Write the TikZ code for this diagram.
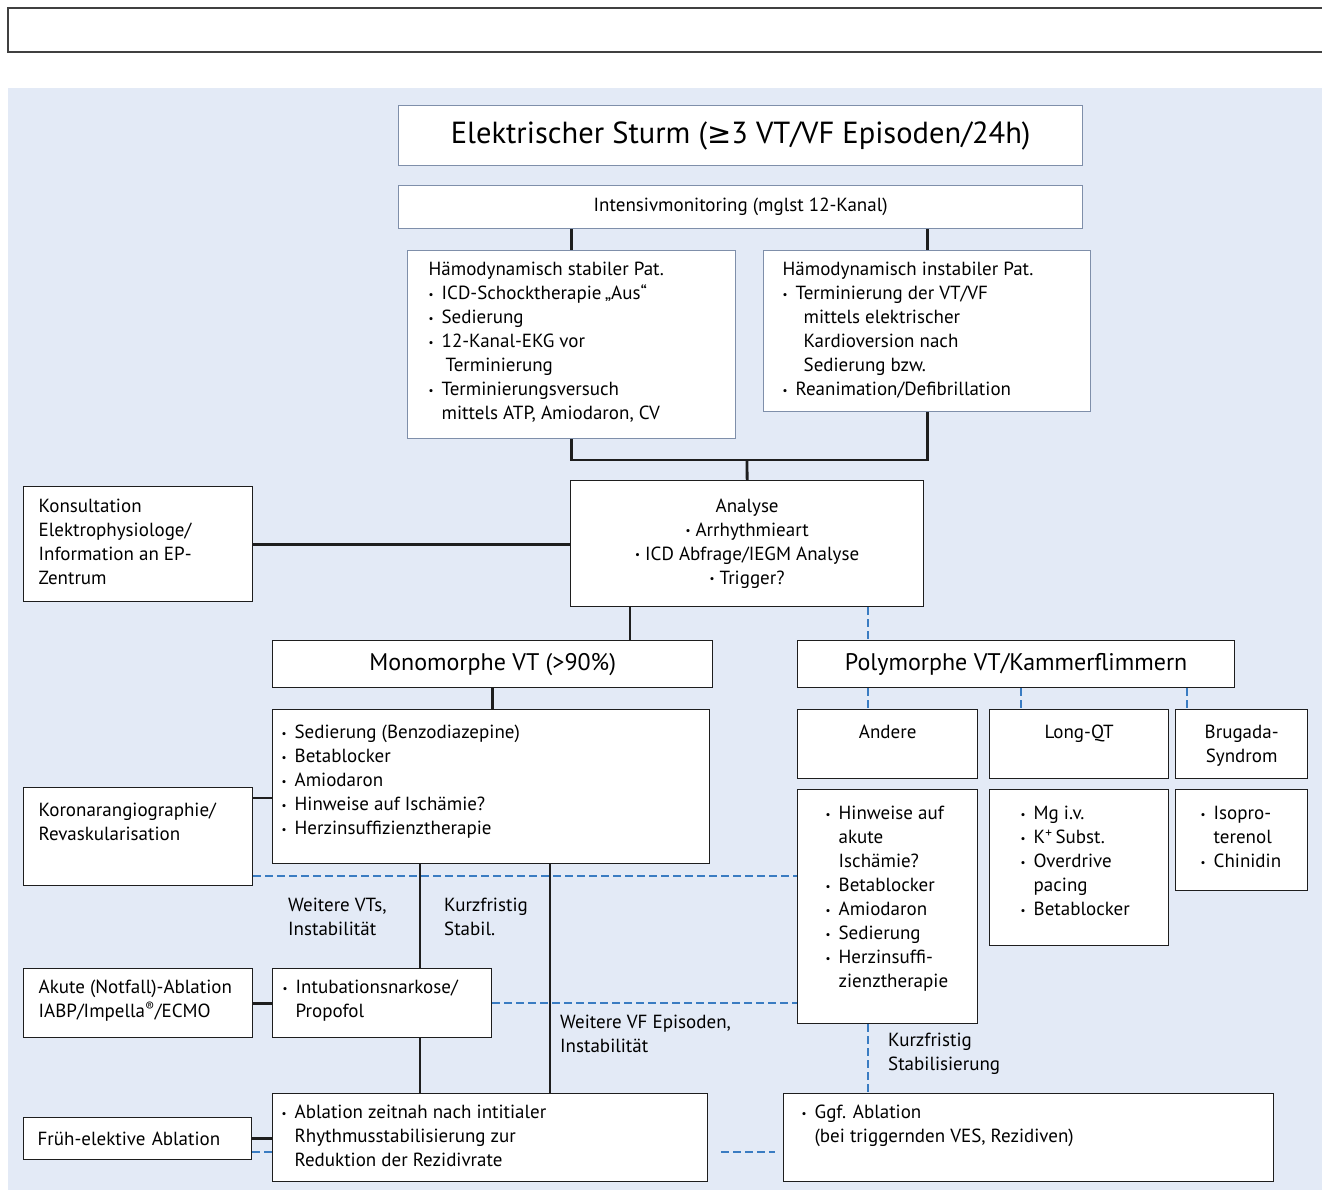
\documentclass[tikz,border=0pt]{standalone}
\usepackage{fontspec}
\setmainfont{PT Sans}
\newfontfamily\symfont{DejaVu Sans}
\usetikzlibrary{positioning}
\definecolor{stormBg}{HTML}{E3EAF6}
\definecolor{stormBlue}{HTML}{3A7CC2}
\definecolor{stormFrame}{HTML}{7F8FAA}
\definecolor{stormLine}{HTML}{1E1E1E}
\setlength{\parskip}{0pt}
\setlength{\parindent}{0pt}
% box content: width, height, left pad, top pad, text
\newcommand{\boxtext}[5]{%
  \begin{minipage}[c][#2][t]{#1}\leftskip=#3\relax\vspace*{#4}#5\end{minipage}}
\newcommand{\bul}{\makebox[13pt][l]{\raisebox{1.5pt}{\fontsize{11}{11}\selectfont•}}}
\newcommand{\itm}{\par\noindent\hangindent=13pt\hangafter=1\strut\bul}
\newcommand{\hdr}{\par\noindent\strut}
\newcommand{\cbul}{{\raisebox{1.5pt}{\fontsize{11}{11}\selectfont•}}\ }

\tikzset{
  box/.style={draw=stormLine, fill=white, line width=1.3pt, inner sep=0pt, anchor=north west},
  framebox/.style={box, draw=stormFrame},
  conn/.style={draw=stormLine, line width=2.8pt},
  link/.style={draw=stormBlue, line width=2.5pt, dash pattern=on 8pt off 4pt},
  note/.style={inner sep=0pt, align=left, anchor=north west},
}

\begin{document}
\begin{tikzpicture}[x=1pt, y=-1pt, font=\fontsize{19}{24}\selectfont]
  \useasboundingbox (0,0) rectangle (1322,1190);
  \draw[draw=black!75, line width=1.5pt] (1340,8) -- (8,8) -- (8,52) -- (1340,52);
  \fill[stormBg] (8,88) rectangle (1322,1190);

  % helper positions
  \coordinate (xmono) at (630,0);
  \coordinate (xpoly) at (868,0);
  \coordinate (xlong) at (1021,0);
  \coordinate (xbru) at (1187,0);
  \coordinate (xint) at (420,0);
  \coordinate (xabl) at (550,0);
  \coordinate (ykor) at (0,798);
  \coordinate (ydashA) at (0,876);
  \coordinate (ydashB) at (0,1152);
  \coordinate (join) at (747,460);

  % top
  \node[framebox, minimum width=684pt, minimum height=60pt, font=\fontsize{30.5}{34}\selectfont]
    (title) at (398,105) {Elektrischer Sturm ({\symfont\fontsize{29}{34}\selectfont ≥}3 VT/VF Episoden/24h)};
  \node[framebox, minimum width=684pt, minimum height=43pt] (intens) at (398,185)
    {Intensivmonitoring (mglst 12-Kanal)};
  \node[framebox] (stab) at (407,250) {\boxtext{328pt}{188pt}{21pt}{8.5pt}{%
    \hdr Hämodynamisch stabiler Pat.
    \itm ICD-Schocktherapie\,„Aus“
    \itm Sedierung
    \itm 12-Kanal-EKG vor\\\hspace*{4pt}Terminierung
    \itm Terminierungsversuch\\mittels ATP, Amiodaron, CV}};
  \node[framebox] (inst) at (763,250) {\boxtext{327pt}{161pt}{19pt}{8.5pt}{%
    \hdr Hämodynamisch instabiler Pat.
    \itm Terminierung der VT/VF\\\hspace*{8pt}mittels elektrischer\\\hspace*{8pt}Kardioversion nach\\\hspace*{8pt}Sedierung bzw.
    \itm Reanimation/Defibrillation}};

  % analysis
  \node[box, minimum width=353pt, minimum height=126pt, align=center] (analyse) at (570,480)
    {Analyse\\\cbul Arrhythmieart\\\cbul ICD Abfrage/IEGM Analyse\\\cbul Trigger?};
  \node[box] (kons) at (23,486) {\boxtext{229pt}{115pt}{15pt}{9.5pt}{%
    \hdr Konsultation\\Elektrophysiologe/\\Information an EP-\\Zentrum}};

  % monomorph branch
  \node[box, minimum width=440pt, minimum height=47pt, font=\fontsize{24}{28}\selectfont]
    (mono) at (272,640) {Monomorphe VT (>90\%)};
  \node[box] (monolist) at (272,709) {\boxtext{437pt}{154pt}{9pt}{12.5pt}{%
    \itm Sedierung (Benzodiazepine)
    \itm Betablocker
    \itm Amiodaron
    \itm Hinweise auf Ischämie?
    \itm Herzinsuffizienztherapie}};
  \node[box] (koronar) at (23,787) {\boxtext{229pt}{98pt}{15pt}{12.5pt}{%
    \hdr Koronarangiographie/\\Revaskularisation}};
  \node[box] (intub) at (272,968) {\boxtext{219pt}{69pt}{10pt}{8.5pt}{%
    \itm Intubationsnarkose/\\Propofol}};
  \node[box] (akute) at (23,968) {\boxtext{229pt}{69pt}{15pt}{8.5pt}{%
    \hdr Akute (Notfall)-Ablation\\IABP/Impella\textsuperscript{®}/ECMO}};
  \node[box] (ablation) at (272,1093) {\boxtext{435pt}{88pt}{9pt}{8.5pt}{%
    \itm Ablation zeitnah nach intitialer\\Rhythmusstabilisierung zur\\Reduktion der Rezidivrate}};
  \node[box, minimum width=228pt, minimum height=42pt, align=left, text width=200pt]
    (frueh) at (23,1117) {Früh-elektive Ablation};

  % polymorph branch
  \node[box, minimum width=437pt, minimum height=47pt, font=\fontsize{24}{28}\selectfont]
    (poly) at (797,640) {Polymorphe VT/Kammerflimmern};
  \node[box] (andere) at (797,709) {\boxtext{180pt}{69pt}{0pt}{12.5pt}{\centering\strut Andere}};
  \node[box] (longqt) at (989,709) {\boxtext{179pt}{69pt}{0pt}{12.5pt}{\centering\strut Long-QT}};
  \node[box] (brugada) at (1175,709) {\boxtext{132pt}{69pt}{0pt}{12.5pt}{\centering\strut Brugada-\\Syndrom}};
  \node[box] (anderelist) at (797,789) {\boxtext{180pt}{234pt}{28pt}{13.5pt}{%
    \itm Hinweise auf\\akute\\Ischämie?
    \itm Betablocker
    \itm Amiodaron
    \itm Sedierung
    \itm Herzinsuffi-\\zienztherapie}};
  \node[box] (longlist) at (989,789) {\boxtext{179pt}{156pt}{31pt}{13.5pt}{%
    \itm Mg i.v.
    \itm K\textsuperscript{+}\,Subst.
    \itm Overdrive\\pacing
    \itm Betablocker}};
  \node[box] (brulist) at (1175,789) {\boxtext{132pt}{101pt}{25pt}{13.5pt}{%
    \itm Isopro-\\terenol
    \itm Chinidin}};
  \node[box] (ggf) at (783,1093) {\boxtext{490pt}{88pt}{18pt}{8.5pt}{%
    \itm Ggf. Ablation\\(bei triggernden VES, Rezidiven)}};

  % free labels
  \node[note] (lblvt) at (288,898) {Weitere VTs,\\Instabilität};
  \node[note] (lblstab) at (444,898) {Kurzfristig\\Stabil.};
  \node[note] (lblvf) at (560,1015) {Weitere VF Episoden,\\Instabilität};
  \node[note] (lblkurz) at (888,1033) {Kurzfristig\\Stabilisierung};

  % solid connectors
  \draw[conn] (stab.north |- intens.south) -- (stab.north);
  \draw[conn] (inst.north |- intens.south) -- (inst.north);
  \draw[conn] (stab.south) |- (join) -| (inst.south);
  \draw[conn] (join) -- (analyse.north);
  \draw[conn] (kons.east) -- (kons.east -| analyse.west);
  \draw[conn] (analyse.south -| xmono) -- (mono.north -| xmono);
  \draw[conn] (mono.south) -- (mono.south |- monolist.north);
  \draw[conn] (koronar.east |- ykor) -- (monolist.west |- ykor);
  \draw[conn] (monolist.south -| xint) -- (intub.north -| xint);
  \draw[conn] (monolist.south -| xabl) -- (ablation.north -| xabl);
  \draw[conn] (intub.south -| xint) -- (ablation.north -| xint);
  \draw[conn] (akute.east) -- (intub.west);
  \draw[conn] (frueh.east) -- (frueh.east -| ablation.west);

  % dashed links
  \draw[link] (analyse.south -| xpoly) -- (poly.north -| xpoly);
  \draw[link] (poly.south -| xpoly) -- (andere.north -| xpoly);
  \draw[link] (poly.south -| xlong) -- (longqt.north -| xlong);
  \draw[link] (poly.south -| xbru) -- (brugada.north -| xbru);
  \draw[link] (koronar.east |- ydashA) -- (anderelist.west |- ydashA);
  \draw[link] (intub.east) -- (intub.east -| anderelist.west);
  \draw[link] (anderelist.south -| xpoly) -- (ggf.north -| xpoly);
  \draw[link] (frueh.east |- ydashB) -- (ablation.west |- ydashB);
  \draw[link, shorten <=13pt, shorten >=8pt] (ablation.east |- ydashB) -- (ggf.west |- ydashB);
\end{tikzpicture}
\end{document}
